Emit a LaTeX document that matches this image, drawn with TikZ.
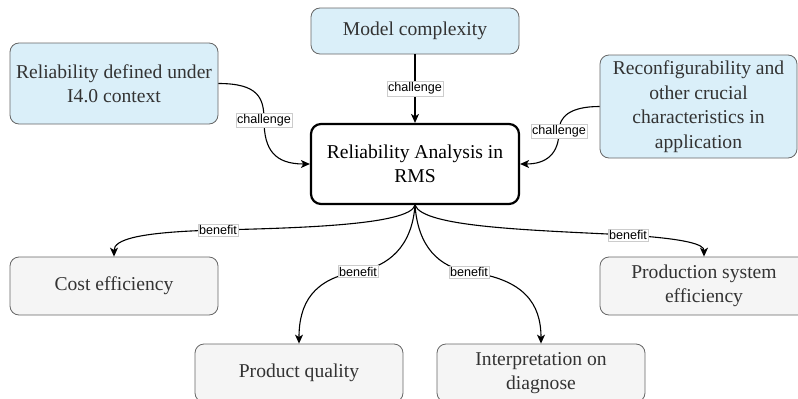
\documentclass[tikz,border=0pt]{standalone}
\usepackage{fontspec}
\setmainfont{Liberation Serif}
\newfontfamily\labelfont{Liberation Sans}
\usetikzlibrary{arrows.meta}
\definecolor{bluefill}{HTML}{DAEFF9}
\definecolor{grayfill}{HTML}{F5F5F5}
\definecolor{boxline}{HTML}{666666}
\definecolor{txt}{HTML}{333333}
\begin{document}
\begin{tikzpicture}[x=1pt,y=-1pt,
  box/.style={rectangle, rounded corners=9pt, draw=boxline, line width=0.8pt, text=txt,
    font=\fontsize{19.6}{24.5}\selectfont, align=center, inner sep=0pt},
  bluebox/.style={box, fill=bluefill},
  graybox/.style={box, fill=grayfill},
  mainbox/.style={rectangle, rounded corners=10pt, draw=black, line width=2.2pt, fill=white,
    text=black, font=\fontsize{19.6}{24.5}\selectfont, align=center, inner sep=0pt},
  conn/.style={line width=1.1pt, -{Stealth[length=9pt,width=8pt,inset=2.5pt]}},
  lbl/.style={font=\labelfont\fontsize{12.6}{14}\selectfont, fill=white, draw=black!20,
    line width=0.4pt, inner sep=1.2pt, text=black}]
\useasboundingbox (0,0) rectangle (798,399);

\node[bluebox, minimum width=208pt, minimum height=46pt] (mc) at (415,31) {Model complexity};
\node[bluebox, minimum width=208pt, minimum height=81pt] (rd) at (114,83.5) {Reliability defined under\\I4.0 context};
\node[bluebox, minimum width=197pt, minimum height=103pt] (rc) at (698.5,106.5) {Reconfigurability and\\other crucial\\characteristics in\\application};
\node[mainbox, minimum width=208pt, minimum height=80pt] (ra) at (415,164) {Reliability Analysis in\\RMS};

\node[graybox, minimum width=208pt, minimum height=58pt] (ce) at (114,286) {Cost efficiency};
\node[graybox, minimum width=208pt, minimum height=58pt] (pq) at (299,373) {Product quality};
\node[graybox, minimum width=208pt, minimum height=58pt] (ip) at (541,373) {Interpretation on\\diagnose};
\node[graybox, minimum width=208pt, minimum height=58pt] (ps) at (704,286) {Production system\\efficiency};

\draw[conn] (mc.south) -- node[lbl] {challenge} (ra.north);
\draw[conn] (rd.east) .. controls +(40,0) and +(0,-22) .. (264,120) node[lbl] {challenge}
  .. controls +(0,30) and +(-35,0) .. (ra.west);
\draw[conn] (rc.west) .. controls +(-30,0) and +(0,-14) .. (559,131) node[lbl] {challenge}
  .. controls +(0,24) and +(25,0) .. (ra.east);

\draw[conn] (ra.south) .. controls +(-5,20) and +(80,-2) .. (218,230) node[lbl] {benefit}
  .. controls +(-80,2) and +(0,-17) .. (ce.north);
\draw[conn] (ra.south) .. controls +(-3,42) and +(30,-5) .. (358,271.5) node[lbl] {benefit}
  .. controls +(-45,7) and +(0,-40) .. (pq.north);
\draw[conn] (ra.south) .. controls +(3,42) and +(-30,-5) .. (469,272) node[lbl] {benefit}
  .. controls +(55,7) and +(0,-40) .. (ip.north);
\draw[conn] (ra.south) .. controls +(8,22) and +(-100,-5) .. (628,235) node[lbl] {benefit}
  .. controls +(60,4) and +(0,-12) .. (ps.north);
\end{tikzpicture}
\end{document}
